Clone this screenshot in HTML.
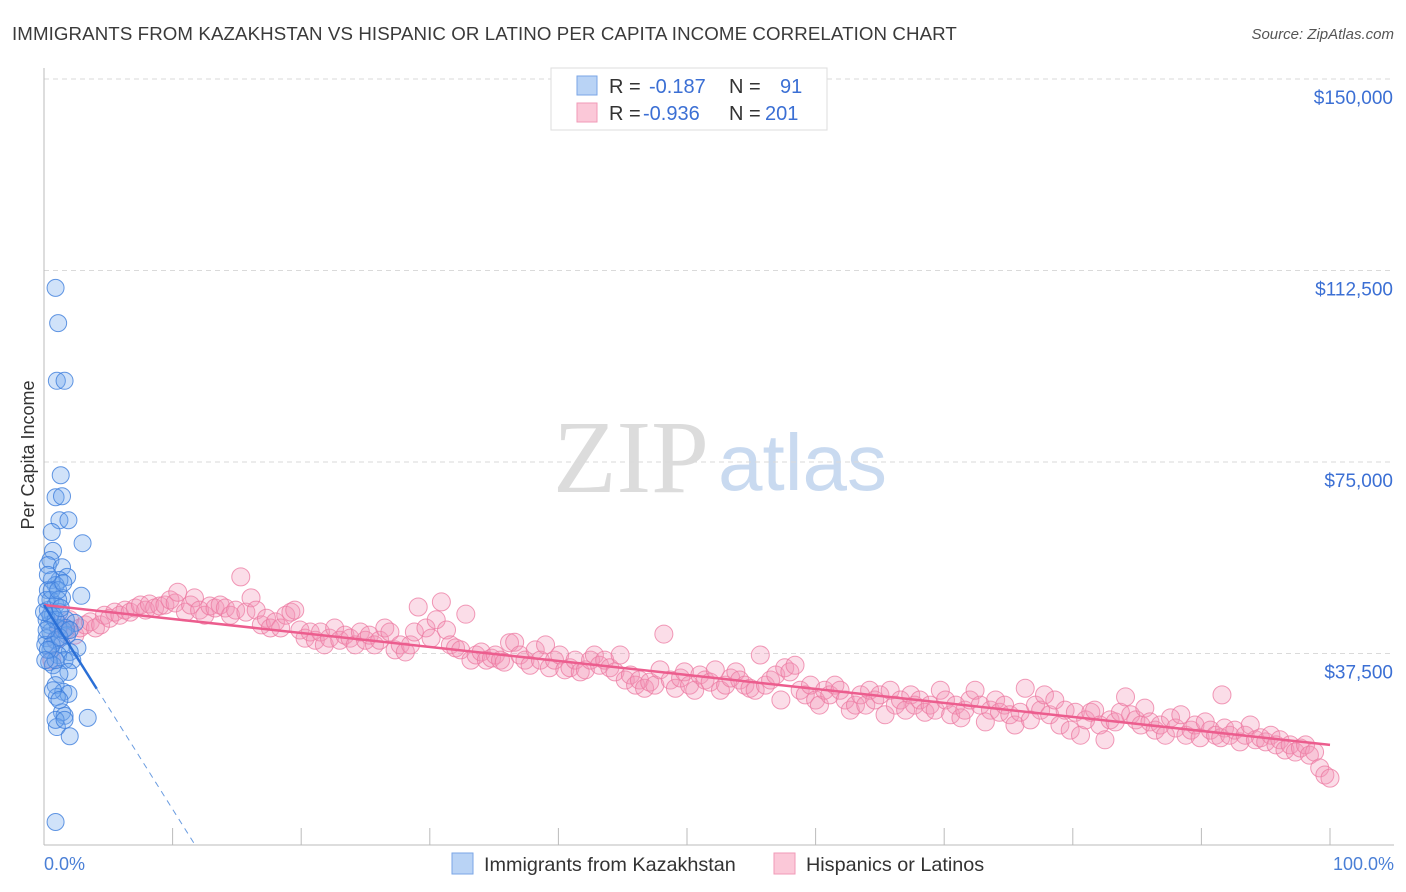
<!DOCTYPE html>
<html><head><meta charset="utf-8"><style>
body{margin:0;background:#fff;font-family:"Liberation Sans",sans-serif;}
svg{display:block}
</style></head><body>
<svg id="chart" width="1406" height="892" xmlns="http://www.w3.org/2000/svg">
<text x="12" y="40" font-size="18.7" letter-spacing="0.1" fill="#3a3a3a">IMMIGRANTS FROM KAZAKHSTAN VS HISPANIC OR LATINO PER CAPITA INCOME CORRELATION CHART</text>
<text x="1394" y="39" font-size="15" fill="#555" font-style="italic" text-anchor="end">Source: ZipAtlas.com</text>
<g>
<text x="553" y="492" font-family="Liberation Serif,serif" font-size="104" fill="#dcdcdc">ZIP</text>
<text x="718" y="490" font-size="80" fill="#c9daf0">atlas</text>
</g>
<g id="grid"></g>
<g id="axes"></g>
<g id="pink"></g>
<g id="blue"></g>
<g id="lines"></g>
<text transform="translate(34,455) rotate(-90)" font-size="18" fill="#333" text-anchor="middle">Per Capita Income</text>
<text x="44" y="870" font-size="18" fill="#4a7fd6">0.0%</text>
<text x="1394" y="870" font-size="18" fill="#4a7fd6" text-anchor="end">100.0%</text>
<g>
<rect x="551" y="68" width="276" height="62" fill="#fff" stroke="#ddd"/>
<rect x="577" y="76" width="20" height="19" fill="#b9d3f5" stroke="#7aa6e6"/>
<rect x="577" y="103" width="20" height="19" fill="#fbc8d8" stroke="#f09ab7"/>
<text y="93" font-size="20"><tspan x="609" fill="#333">R = </tspan><tspan x="649" fill="#3b6fd4">-0.187</tspan><tspan x="729" fill="#333">N = </tspan><tspan x="780" fill="#3b6fd4">91</tspan></text>
<text y="120" font-size="20"><tspan x="609" fill="#333">R = </tspan><tspan x="643" fill="#3b6fd4">-0.936</tspan><tspan x="729" fill="#333">N = </tspan><tspan x="765" fill="#3b6fd4">201</tspan></text>
</g>
<g>
<rect x="452" y="853" width="21" height="21" fill="#b9d3f5" stroke="#7aa6e6"/>
<text x="484" y="871" font-size="19.8" fill="#333">Immigrants from Kazakhstan</text>
<rect x="774" y="853" width="21" height="21" fill="#fbc8d8" stroke="#f09ab7"/>
<text x="806" y="871" font-size="19.8" fill="#333">Hispanics or Latinos</text>
</g>
</svg>
<script>
const yTicks=[37500,75000,112500,150000];
const yTickLabels=["$37,500","$75,000","$112,500","$150,000"];
const xTicks=[0,10,20,30,40,50,60,70,80,90,100];
const bluePct=[0.9,1.1,1.0,1.6,1.3,0.9,1.4,1.2,1.9,0.6,3.0,0.7,0.5,0.3,1.4,1.8,1.2,0.6,0.9,0.3,2.9,1.4,0.5,0.9,0.3,1.2,0.7,1.7,0.4,2.4,1.1,0.5,1.8,0.2,0.9,1.4,2.6,0.5,2.0,1.1,1.6,0.4,0.7,2.2,1.9,1.2,0.9,1.5,1.9,1.0,1.4,1.6,3.4,1.0,2.0,0.9,0.2,0.2,0.6,1.1,1.5,0.1,0.3,0.9,0.6,1.7,1.2,0.3,0.1,0.7,1.2,0.9,1.6,0.5,0.9,1.3,0.2,0,2.0,1.1,1.5];
const blueInc=[109.1,102.2,90.9,90.9,72.4,68.1,68.3,63.6,63.6,61.3,59.1,57.6,55.8,54.8,54.4,52.5,51.9,51.9,50.9,49.9,48.8,48.4,48.0,47.0,46.0,45.6,45.0,44.1,43.1,43.5,42.5,41.7,41.1,40.5,40.1,39.2,38.6,38.2,37.8,37.2,36.2,35.8,35.2,36.2,33.9,33.5,31.3,30.0,29.6,29.0,26.0,25.3,24.9,23.1,21.3,4.5,44.1,48.0,49.9,48.0,42.1,39.2,52.9,36.2,39.2,42.5,40.7,38.2,36.2,30.3,28.4,24.5,24.5,45.0,44.1,46.4,42.1,45.6,42.1,49.9,51.3];
const pinkPct=[0.6,0.9,1.2,1.7,2.0,2.4,2.8,3.2,3.6,4.0,
4.4,4.7,5.1,5.5,5.9,6.3,6.7,7.1,7.5,7.9,8.2,8.6,9.0,9.4,9.8,10.2,10.4,11.0,11.4,11.7,
12.1,12.5,12.9,13.3,13.7,14.1,14.5,14.9,15.3,15.7,16.1,16.5,16.9,17.3,17.6,18.0,18.4,18.8,19.2,19.5,
19.9,20.3,20.7,21.1,21.5,21.8,22.2,22.6,23.0,23.4,23.8,24.2,24.6,25.0,25.3,25.7,26.1,26.5,26.9,27.3,
27.7,28.1,28.5,28.8,29.1,29.7,30.1,30.5,30.9,31.3,31.6,32.0,32.4,32.8,33.2,33.6,34.0,34.4,34.8,35.1,
35.5,35.8,36.2,36.6,37.0,37.4,37.8,38.2,38.6,39.0,39.3,39.7,40.1,40.5,40.9,41.3,41.7,42.1,42.5,42.8,
43.2,43.6,44.0,44.4,44.8,45.2,45.6,46.0,46.3,46.7,47.1,47.5,47.9,48.2,48.7,49.1,49.5,49.8,50.2,50.6,
51.0,51.4,51.8,52.2,52.6,53.0,53.4,53.8,54.1,54.5,54.9,55.3,55.7,56.1,56.5,56.9,57.3,57.6,58.0,58.4,
58.8,59.2,59.6,60.0,60.3,60.7,61.1,61.5,61.9,62.3,62.7,63.1,63.5,63.9,64.2,64.6,65.0,65.4,65.8,66.2,
66.6,67.0,67.4,67.7,68.1,68.5,68.9,69.3,69.7,70.1,70.5,70.9,71.3,71.6,72.0,72.4,72.8,73.2,73.6,74.0,
74.3,74.7,75.1,75.5,75.9,76.3,76.7,77.1,77.5,77.8,78.2,78.6,79.0,79.4,79.8,80.2,80.6,81.0,81.4,81.7,
82.1,82.5,82.9,83.3,83.7,84.1,84.5,84.9,85.3,85.6,86.0,86.4,86.8,87.2,87.6,88.0,88.4,88.8,89.2,89.5,
89.9,90.3,90.7,91.1,91.5,91.6,91.8,92.2,92.6,93.0,93.4,93.8,94.2,94.6,95.0,95.4,95.8,96.1,96.5,96.9,97.3,
97.7,98.1,98.4,98.8,99.2,99.6,100.0];
const pinkInc=[36.2,40.1,43.1,42.1,44.1,41.1,42.5,43.1,43.7,42.5,
43.1,45.0,44.4,45.6,45.0,46.0,45.6,46.4,47.0,46.0,47.2,46.4,46.8,47.0,48.0,47.4,49.5,45.6,47.0,48.4,
46.0,45.0,46.8,46.4,47.0,46.4,45.0,46.0,52.5,45.6,48.4,46.0,43.1,44.4,42.5,43.7,42.5,45.0,45.6,46.0,
42.1,40.5,41.7,40.1,41.7,39.2,40.5,42.5,40.1,41.1,40.5,39.2,41.7,40.1,41.1,39.2,40.1,42.5,41.7,38.2,
39.2,37.8,39.2,41.7,46.6,42.5,40.5,44.1,47.6,42.1,39.2,38.6,38.2,45.2,36.2,37.2,37.8,36.2,36.6,37.2,
36.2,35.8,39.6,39.7,37.2,36.2,35.2,38.2,36.2,39.2,34.7,36.2,37.2,34.3,34.7,36.2,33.9,34.3,36.2,37.2,
35.2,36.2,34.7,33.9,37.2,32.3,33.3,31.3,32.3,30.7,31.9,31.3,34.3,41.3,32.3,30.7,32.7,33.9,31.3,30.3,
33.3,32.3,31.9,34.3,30.3,31.3,32.7,33.9,32.3,31.3,30.7,30.3,37.2,31.3,32.3,33.3,28.4,34.7,33.9,35.2,
30.3,29.4,31.3,28.4,27.4,30.3,29.4,31.3,30.3,28.4,26.4,27.4,29.4,27.4,30.3,28.4,29.4,25.5,30.3,27.4,
28.4,26.4,29.4,27.4,28.4,26.0,27.4,26.4,30.3,28.4,25.5,27.4,24.9,26.4,28.4,30.3,27.4,24.1,26.4,28.4,
26.0,27.4,25.5,23.5,26.0,30.7,24.5,27.4,26.4,29.4,25.5,28.4,23.5,26.4,22.5,26.0,21.5,24.5,26.0,26.4,
23.5,20.6,24.5,24.1,26.0,29.0,25.5,24.5,23.5,26.8,24.1,22.5,23.5,21.5,24.9,22.9,25.5,21.5,22.5,23.5,
21.0,24.1,22.5,21.5,21.0,29.4,22.9,21.5,22.5,20.2,21.5,23.5,20.6,21.0,20.2,21.5,19.6,20.6,18.6,19.6,18.2,
19.0,19.6,17.6,18.2,15.1,13.7,13.1];
const pinkTrend=[47.0,19.6];
const blueTrend=[47.0,-4.0];

const NS="http://www.w3.org/2000/svg";
const X0=44,XW=12.86,Y0=845,YK=191.5/37.5;
function sx(p){return X0+p*XW;}
function sy(k){return Y0-k*YK;}
function mk(tag,attrs,parent){const e=document.createElementNS(NS,tag);for(const a in attrs)e.setAttribute(a,attrs[a]);parent.appendChild(e);return e;}
const grid=document.getElementById('grid'),axes=document.getElementById('axes');
yTicks.forEach((t,i)=>{
  const y=sy(t/1000);
  const l=mk('line',{x1:44,x2:1394,y1:y,y2:y,stroke:'#dadada','stroke-dasharray':'5,4'},grid);
  
  
  const tx=mk('text',{x:1393,y:y+25,'font-size':19,fill:'#3b6fd4','text-anchor':'end'},grid);
  tx.textContent=yTickLabels[i];
  
  
});
const ya=mk('line',{x1:44,x2:44,y1:68,y2:845,stroke:'#bbb'},axes);


const xa=mk('line',{x1:44,x2:1394,y1:845,y2:845,stroke:'#bbb'},axes);


xTicks.forEach(t=>{
  const tk=mk('line',{x1:sx(t),x2:sx(t),y1:828,y2:845,stroke:'#bbb'},axes);
  
  
});
const pg=document.getElementById('pink');
pinkPct.forEach((p,i)=>{
  const c=mk('circle',{cx:sx(p),cy:sy(pinkInc[i]),r:9,fill:'rgba(244,150,182,0.32)',stroke:'rgba(236,120,160,0.75)','stroke-width':1},pg);
  
  
});
const bg=document.getElementById('blue');
bluePct.forEach((p,i)=>{
  const c=mk('circle',{cx:sx(p),cy:sy(blueInc[i]),r:8.5,fill:'rgba(110,165,235,0.32)',stroke:'rgba(60,125,220,0.8)','stroke-width':1},bg);
  
  
});
const lg=document.getElementById('lines');
const pl=mk('line',{x1:sx(0),y1:sy(pinkTrend[0]),x2:sx(100),y2:sy(pinkTrend[1]),stroke:'#ec5d8e','stroke-width':2.5},lg);


const bEnd=4.1, bZero=-blueTrend[0]/blueTrend[1];
const bl=mk('line',{x1:sx(0),y1:sy(blueTrend[0]),x2:sx(bEnd),y2:sy(blueTrend[0]+blueTrend[1]*bEnd),stroke:'#2a6fd6','stroke-width':2.5},lg);


const bd=mk('line',{x1:sx(bEnd),y1:sy(blueTrend[0]+blueTrend[1]*bEnd),x2:sx(bZero),y2:sy(0),stroke:'#6a9ce0','stroke-width':1,'stroke-dasharray':'6,5'},lg);


</script>
</body></html>
